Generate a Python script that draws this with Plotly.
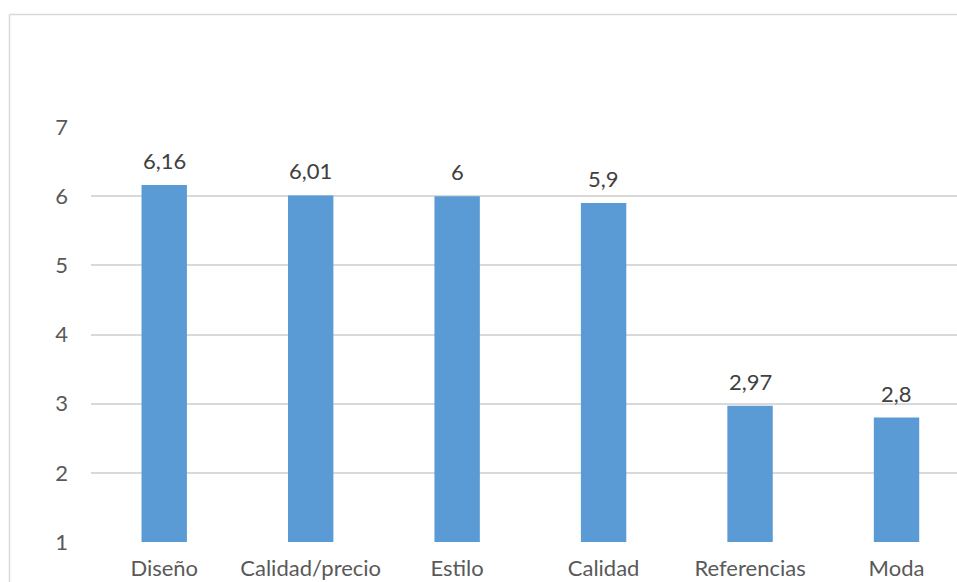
import plotly.graph_objects as go

# Valoración media por atributo
categorias = ["Diseño", "Calidad/precio", "Estilo", "Calidad", "Referencias", "Moda"]
valores = [6.16, 6.01, 6.0, 5.9, 2.97, 2.8]
ticks_y = [1, 2, 3, 4, 5, 6, 7]

W, H = 957, 582
L, R, T, B = 91, 0, 127, 40

FONT = "Lato"
TAM = 22
GRIS = "#595959"
BORDE = "#D9D9D9"

def etiqueta(v):
    s = f"{v:g}"
    return s.replace(".", ",")

fig = go.Figure()
fig.add_trace(go.Bar(
    x=list(range(len(categorias))),
    y=[v - 1 for v in valores],
    base=1,
    width=0.31,
    marker=dict(color="#5B9BD5", line=dict(width=0)),
    hoverinfo="skip",
))

for i, v in enumerate(valores):
    fig.add_annotation(
        x=i, y=v, text=etiqueta(v), showarrow=False,
        yanchor="bottom", yshift=9,
        font=dict(family=FONT, size=TAM, color="#404040"),
    )

# Borde del área del gráfico (superior e izquierdo)
pw = W - L - R
ph = H - T - B
x_borde = (9.5 - L) / pw
y_borde = 1 + (T - 14.5) / ph
fig.add_shape(type="line", xref="paper", yref="paper",
              x0=x_borde, x1=1.2, y0=y_borde, y1=y_borde,
              line=dict(color=BORDE, width=1.5))
fig.add_shape(type="line", xref="paper", yref="paper",
              x0=x_borde, x1=x_borde, y0=y_borde, y1=-0.3,
              line=dict(color=BORDE, width=1.5))

fig.update_layout(
    width=W, height=H,
    margin=dict(l=L, r=R, t=T, b=B, pad=0, autoexpand=False),
    paper_bgcolor="white", plot_bgcolor="white",
    showlegend=False,
    font=dict(family=FONT, size=TAM, color=GRIS),
    xaxis=dict(
        range=[-0.5, (W - 164) / 146.5],
        tickvals=list(range(len(categorias))),
        ticktext=categorias,
        showgrid=False, zeroline=False, showline=False,
        ticks="", ticklabelstandoff=11, automargin=False,
        tickfont=dict(family=FONT, size=TAM, color=GRIS),
    ),
    yaxis=dict(
        range=[1, 7],
        tickvals=ticks_y,
        showgrid=True, gridcolor=BORDE, gridwidth=1.5,
        zeroline=False, showline=False,
        ticks="", ticklabelstandoff=22, automargin=False,
        tickfont=dict(family=FONT, size=TAM, color=GRIS),
    ),
)

fig.write_html("out.html")
